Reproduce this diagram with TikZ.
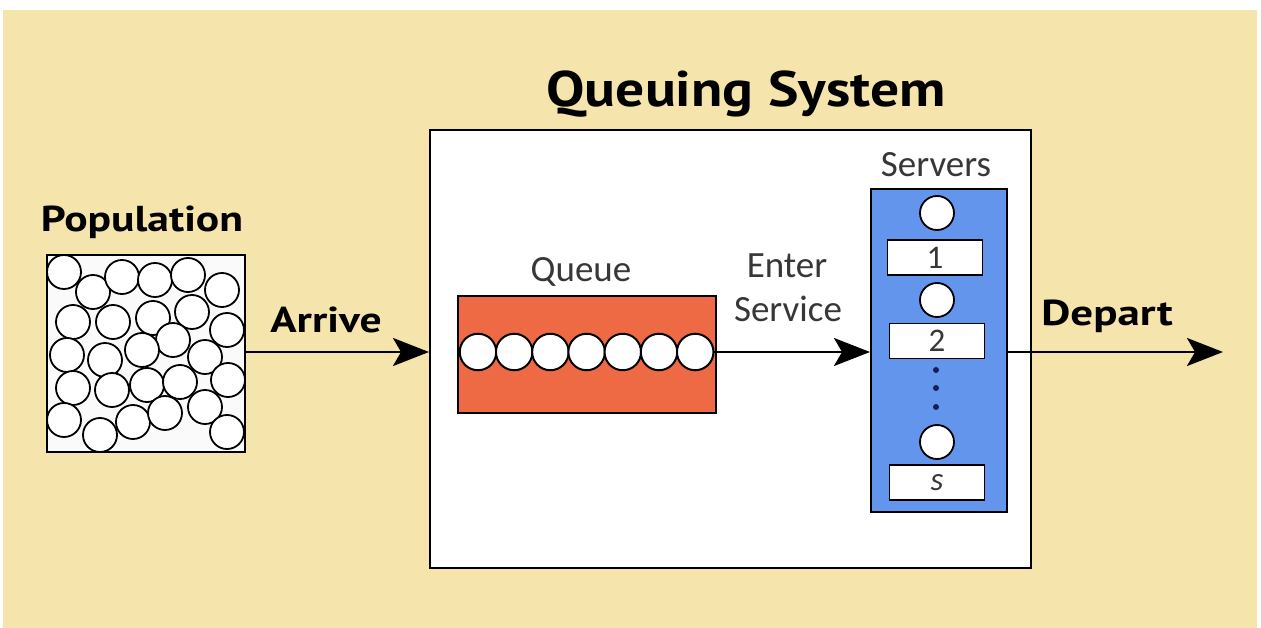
\documentclass[tikz,border=0pt]{standalone}
\usepackage{fontspec}
\setmainfont{Carlito}
\newfontfamily\headfont{PT Sans}
\usetikzlibrary{arrows.meta}

\definecolor{paper}{RGB}{245,229,172}
\definecolor{queuefill}{RGB}{238,106,69}
\definecolor{serverfill}{RGB}{100,149,237}
\definecolor{textgray}{RGB}{55,55,55}
\definecolor{dotblue}{RGB}{20,30,90}

% widened bold lettering for the headings
\newcommand{\widebold}[2]{\scalebox{#1}[1]{#2}}

\begin{document}
\begin{tikzpicture}[x=1pt,y=-1pt,
  boldlabel/.style={font=\headfont\bfseries\fontsize{36}{40}\selectfont, text=black, inner sep=0pt, anchor=base},
  thinlabel/.style={font=\fontsize{37}{41}\selectfont, text=textgray, inner sep=0pt, anchor=base},
  person/.style={circle, draw=black, line width=1.8pt, fill=white, minimum size=34pt, inner sep=0pt},
  customer/.style={circle, draw=black, line width=2pt, fill=white, minimum size=36.5pt, inner sep=0pt},
  unit/.style={circle, draw=black, line width=1.8pt, fill=white, minimum size=34pt, inner sep=0pt},
  counter/.style={rectangle, draw=black, line width=1.8pt, fill=white, minimum width=95pt, minimum height=35pt, inner sep=0pt, text=textgray, font=\fontsize{33}{35}\selectfont},
  flow/.style={line width=2.6pt, draw=black, -{Stealth[length=36pt,width=28pt,inset=8pt]}}
]
\useasboundingbox (0,0) rectangle (1261,628);
\fill[white] (0,0) rectangle (1261,628);
\fill[paper] (3,10) rectangle (1257,628);

% title
\node[boldlabel, font=\headfont\bfseries\fontsize{50}{56}\selectfont] (title) at (746,107) {\widebold{1.15}{Queuing System}};

% population of potential customers
\node[rectangle, fill=white!98!black, minimum width=198pt, minimum height=197pt, inner sep=0pt] (pop) at (146,353.5) {};
\begin{scope}
\clip (pop.north west) rectangle (pop.south east);
\foreach \i/\px/\py in {
  1/64/272, 2/93/292, 3/122/277, 4/155/280, 5/188/275, 6/222/290,
  7/73/322, 8/113/322, 9/153/318, 10/192/312, 11/227/330, 12/173/340,
  13/67/355, 14/105/360, 15/142/350, 16/205/357,
  17/73/388, 18/112/390, 19/147/385, 20/180/382, 21/228/380,
  22/64/420, 23/100/435, 24/133/422, 25/165/413, 26/205/407, 27/227/432}
  \node[person] (p\i) at (\px,\py) {};
\end{scope}
\draw[line width=2.4pt] (pop.north west) rectangle (pop.south east);
\node[boldlabel] (poplabel) at (142,232) {\widebold{1.21}{Population}};

% queuing system frame
\node[rectangle, draw=black, line width=2pt, fill=white, minimum width=601pt, minimum height=438pt, inner sep=0pt] (sys) at (730.5,349) {};

% queue with waiting customers
\node[rectangle, draw=black, line width=2pt, fill=queuefill, minimum width=258pt, minimum height=117pt, inner sep=0pt] (queue) at (587,354.5) {};
\foreach \k in {1,...,7}
  \node[customer] (qc\k) at ({478+36.2*(\k-1)},352) {};
\node[thinlabel] (queuelabel) at (581,282) {Queue};

% servers
\node[rectangle, draw=black, line width=2pt, fill=serverfill, minimum width=136pt, minimum height=323pt, inner sep=0pt] (srv) at (939,350.5) {};
\node[thinlabel] (srvlabel) at (936,177) {Servers};
\node[unit] (u1) at (937,213) {};
\node[counter] (c1) at (935,257.5) {1};
\node[unit] (u2) at (937,300) {};
\node[counter] (c2) at (937,341) {2};
\foreach \j/\dy in {1/370,2/388,3/407}
  \node[circle, fill=dotblue, minimum size=6pt, inner sep=0pt] (dot\j) at (936,\dy) {};
\node[unit] (us) at (937,442) {};
\node[counter, font=\itshape\fontsize{33}{35}\selectfont] (cs) at (937,482.5) {s};

% flows
\coordinate (exit) at (1223,352);
\draw[flow] (pop.east |- qc1) -- (sys.west |- qc1);
\draw[flow] (qc7.east) -- (srv.west |- qc7);
\draw[flow] (srv.east |- exit) -- (exit);

% flow labels
\node[boldlabel] (arrive) at (326,333) {\widebold{1.21}{Arrive}};
\node[thinlabel] (enter) at (787,278) {Enter};
\node[thinlabel] (service) at (788,322) {Service};
\node[boldlabel] (depart) at (1107,326) {\widebold{1.25}{Depart}};
\end{tikzpicture}
\end{document}
